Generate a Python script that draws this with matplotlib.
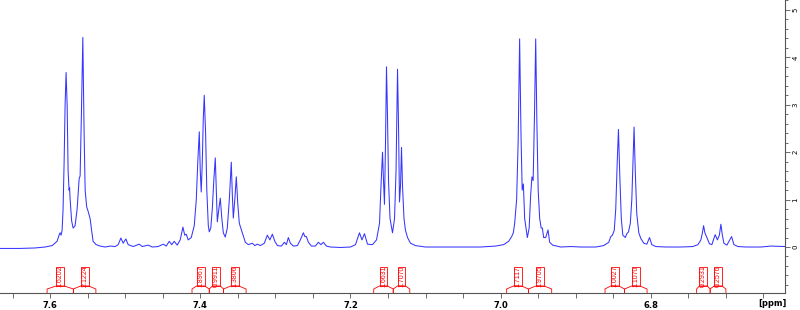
import matplotlib
matplotlib.use("Agg")
import matplotlib.pyplot as plt
import matplotlib.transforms as mtransforms
from matplotlib.ticker import MultipleLocator

# spectrum trace: chemical shift [ppm] and intensity
ppm = [7.6667, 7.6400, 7.6200, 7.6067, 7.5973, 7.5907, 7.5880, 7.5867, 7.5853, 7.5840,
       7.5827, 7.5813, 7.5800, 7.5787, 7.5773, 7.5760, 7.5747, 7.5740, 7.5733, 7.5713,
       7.5693, 7.5667, 7.5640, 7.5613, 7.5600, 7.5583, 7.5564, 7.5547, 7.5533, 7.5513,
       7.5493, 7.5467, 7.5447, 7.5427, 7.5387, 7.5333, 7.5267, 7.5200, 7.5133, 7.5093,
       7.5057, 7.5027, 7.4991, 7.4960, 7.4893, 7.4813, 7.4773, 7.4693, 7.4640, 7.4560,
       7.4493, 7.4453, 7.4413, 7.4380, 7.4347, 7.4307, 7.4267, 7.4231, 7.4207, 7.4187,
       7.4160, 7.4120, 7.4080, 7.4053, 7.4033, 7.4013, 7.4000, 7.3987, 7.3973, 7.3960,
       7.3947, 7.3929, 7.3913, 7.3893, 7.3880, 7.3860, 7.3840, 7.3820, 7.3800, 7.3787,
       7.3773, 7.3753, 7.3733, 7.3713, 7.3693, 7.3667, 7.3640, 7.3613, 7.3587, 7.3573,
       7.3560, 7.3540, 7.3520, 7.3500, 7.3480, 7.3440, 7.3400, 7.3360, 7.3307, 7.3273,
       7.3240, 7.3200, 7.3147, 7.3107, 7.3073, 7.3040, 7.3007, 7.2973, 7.2920, 7.2880,
       7.2853, 7.2827, 7.2800, 7.2760, 7.2707, 7.2667, 7.2627, 7.2607, 7.2587, 7.2560,
       7.2520, 7.2467, 7.2427, 7.2393, 7.2360, 7.2320, 7.2267, 7.2133, 7.2000, 7.1933,
       7.1880, 7.1847, 7.1813, 7.1773, 7.1707, 7.1653, 7.1613, 7.1593, 7.1573, 7.1560,
       7.1547, 7.1533, 7.1520, 7.1507, 7.1493, 7.1473, 7.1440, 7.1413, 7.1393, 7.1373,
       7.1360, 7.1347, 7.1333, 7.1320, 7.1307, 7.1287, 7.1267, 7.1240, 7.1200, 7.1133,
       7.1000, 7.0800, 7.0533, 7.0267, 7.0067, 6.9960, 6.9893, 6.9853, 6.9831, 6.9813,
       6.9787, 6.9767, 6.9747, 6.9729, 6.9713, 6.9697, 6.9680, 6.9644, 6.9620, 6.9600,
       6.9583, 6.9567, 6.9549, 6.9533, 6.9517, 6.9500, 6.9480, 6.9460, 6.9444, 6.9427,
       6.9400, 6.9369, 6.9347, 6.9307, 6.9200, 6.9067, 6.8933, 6.8733, 6.8627, 6.8560,
       6.8533, 6.8511, 6.8487, 6.8467, 6.8447, 6.8431, 6.8413, 6.8393, 6.8373, 6.8340,
       6.8320, 6.8297, 6.8273, 6.8253, 6.8236, 6.8223, 6.8207, 6.8187, 6.8160, 6.8133,
       6.8093, 6.8053, 6.8017, 6.7987, 6.7933, 6.7800, 6.7600, 6.7440, 6.7373, 6.7333,
       6.7313, 6.7297, 6.7280, 6.7253, 6.7220, 6.7187, 6.7143, 6.7113, 6.7087, 6.7067,
       6.7047, 6.7027, 6.6987, 6.6924, 6.6893, 6.6840, 6.6733, 6.6533, 6.6400, 6.6213]
intensity = [-0.03, -0.03, -0.02, 0.00, 0.03, 0.12, 0.25, 0.30, 0.25, 0.35,
             0.80, 1.80, 3.00, 3.68, 3.00, 1.60, 1.20, 1.25, 1.00, 0.55,
             0.40, 0.45, 0.80, 1.44, 1.50, 2.80, 4.42, 2.40, 1.20, 0.85,
             0.75, 0.60, 0.35, 0.12, 0.05, 0.02, 0.00, 0.02, 0.01, 0.05,
             0.19, 0.08, 0.17, 0.05, 0.01, 0.06, 0.01, 0.04, 0.00, 0.01,
             0.06, 0.02, 0.12, 0.05, 0.12, 0.04, 0.15, 0.42, 0.25, 0.27,
             0.15, 0.20, 0.45, 1.00, 1.80, 2.43, 1.60, 1.16, 1.80, 2.70,
             3.20, 2.40, 1.20, 0.45, 0.32, 0.40, 0.80, 1.40, 1.88, 1.20,
             0.53, 0.80, 1.03, 0.60, 0.30, 0.21, 0.40, 1.00, 1.79, 1.10,
             0.61, 1.00, 1.48, 0.90, 0.50, 0.30, 0.10, 0.05, 0.08, 0.03,
             0.06, 0.03, 0.08, 0.25, 0.15, 0.27, 0.12, 0.03, 0.02, 0.10,
             0.05, 0.20, 0.08, 0.02, 0.03, 0.15, 0.30, 0.22, 0.22, 0.10,
             0.02, 0.02, 0.10, 0.05, 0.10, 0.02, 0.00, -0.01, 0.00, 0.05,
             0.30, 0.15, 0.28, 0.06, 0.05, 0.15, 0.50, 1.30, 2.00, 1.40,
             0.90, 2.20, 3.80, 2.80, 1.40, 0.60, 0.30, 0.60, 1.60, 3.75,
             2.60, 0.95, 1.30, 2.10, 1.30, 0.60, 0.35, 0.20, 0.08, 0.03,
             0.00, 0.00, 0.00, 0.00, 0.02, 0.05, 0.12, 0.22, 0.30, 0.50,
             1.00, 2.20, 4.39, 2.40, 1.20, 1.33, 0.60, 0.20, 0.40, 1.10,
             1.48, 1.40, 2.80, 4.39, 2.60, 1.20, 0.60, 0.40, 0.40, 0.20,
             0.20, 0.36, 0.10, 0.04, 0.00, 0.01, 0.00, 0.00, 0.03, 0.10,
             0.22, 0.25, 0.35, 0.80, 1.80, 2.48, 1.50, 0.60, 0.25, 0.20,
             0.28, 0.32, 0.50, 1.00, 1.90, 2.53, 1.60, 0.70, 0.30, 0.18,
             0.08, 0.06, 0.20, 0.05, 0.01, 0.00, 0.00, 0.01, 0.05, 0.15,
             0.30, 0.45, 0.30, 0.20, 0.07, 0.05, 0.26, 0.15, 0.25, 0.48,
             0.25, 0.08, 0.04, 0.22, 0.05, 0.01, 0.00, 0.00, 0.02, 0.01]

# integral regions (start, end in ppm) and their values
int_start = [7.604, 7.569, 7.411, 7.388, 7.369, 7.169, 7.143, 6.992, 6.963, 6.861, 6.835, 6.739, 6.721]
int_end = [7.569, 7.539, 7.388, 7.369, 7.339, 7.143, 7.121, 6.963, 6.932, 6.835, 6.805, 6.721, 6.700]
int_labels = ['1.6202', '2.1224', '1.8967', '0.9911', '1.3806', '1.6631', '1.7070',
              '1.7117', '1.9705', '1.0027', '1.1070', '0.2931', '0.2576']

x_major = [7.6, 7.4, 7.2, 7.0, 6.8]
x_major_labels = ['7.6', '7.4', '7.2', '7.0', '6.8']
y_major = [0, 1, 2, 3, 4, 5]

fig = plt.figure(figsize=(8, 3.1), dpi=100)
ax = fig.add_axes([0, 17 / 310, 785 / 800, 293 / 310])

ax.plot(ppm, intensity, color='#3535ff', lw=0.75)
ax.set_xlim(7.6667, 6.6213)
ax.set_ylim(-0.97, 5.21)

# integral brackets, y in axes fraction
trans = mtransforms.blended_transform_factory(ax.transData, ax.transAxes)
hw = 0.0053
for a, b, lab in zip(int_start, int_end, int_labels):
    xc = (a + b) / 2
    ax.plot([a, a, xc + hw, xc - hw, b, b], [0, 0.0137, 0.024, 0.024, 0.0137, 0],
            color='red', lw=0.6, transform=trans, clip_on=False)
    ax.add_patch(plt.Rectangle((xc + hw, 0.024), -2 * hw, 0.064, transform=trans,
                               facecolor='white', edgecolor='red', lw=0.6, clip_on=False))
    ax.text(xc, 0.056, lab, transform=trans, rotation=90, color='red', fontsize=5,
            family='Liberation Sans', ha='center', va='center')

for s in ['top', 'left']:
    ax.spines[s].set_visible(False)
ax.spines['bottom'].set_color('#555555')
ax.spines['right'].set_color('#555555')
ax.spines['bottom'].set_linewidth(0.8)
ax.spines['right'].set_linewidth(0.8)

ax.set_xticks(x_major)
ax.set_xticklabels(x_major_labels, fontsize=6, fontweight='bold')
ax.xaxis.set_minor_locator(MultipleLocator(0.05))
ax.tick_params(axis='x', which='both', direction='out', length=3.5, width=0.6,
               color='#555555', pad=2)

ax.yaxis.tick_right()
ax.set_yticks(y_major)
ax.set_yticklabels([str(v) for v in y_major], fontsize=5, rotation=90, va='center')
ax.yaxis.set_minor_locator(MultipleLocator(0.2))
ax.tick_params(axis='y', which='major', direction='out', length=3.5, width=0.6,
               color='#555555', pad=2)
ax.tick_params(axis='y', which='minor', direction='out', length=2.5, width=0.6,
               color='#555555')

fig.text(0.966, 0.022, '[ppm]', fontsize=6, fontweight='bold', ha='center', va='center')

fig.savefig('out.png', dpi=100)
